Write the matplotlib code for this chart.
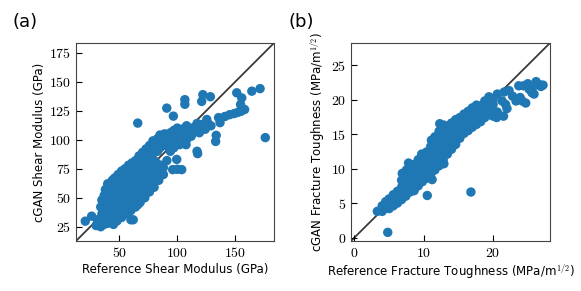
import matplotlib
matplotlib.use("Agg")
import matplotlib.pyplot as plt
from matplotlib.ticker import FuncFormatter

plt.rcParams["mathtext.fontset"] = "cm"
plt.rcParams["font.family"] = "DejaVu Sans"

# (reference, cgan) pairs
shear_blob = [
    (30, 26), (31, 31), (34, 25), (34, 30), (35, 36), (34, 42), (35, 48),
    (37, 27), (38, 33), (37, 40), (38, 46), (37, 52), (38, 57),
    (40, 28), (41, 34), (40, 40), (41, 46), (40, 52), (41, 58), (40, 62),
    (43, 30), (44, 36), (43, 42), (44, 48), (43, 54), (44, 60), (44, 65),
    (46, 32), (47, 38), (46, 44), (47, 50), (46, 56), (47, 62), (46, 67),
    (49, 35), (50, 41), (49, 47), (50, 53), (49, 59), (50, 65), (49, 70),
    (52, 38), (53, 44), (52, 50), (53, 56), (52, 62), (53, 68), (52, 73),
    (55, 40), (56, 46), (55, 52), (56, 58), (55, 64), (56, 70), (55, 75),
    (58, 43), (59, 49), (58, 55), (59, 61), (58, 67), (59, 73), (58, 78),
    (61, 45), (62, 51), (61, 57), (62, 63), (61, 69), (62, 75), (61, 80),
    (64, 47), (65, 53), (64, 59), (65, 65), (64, 71), (65, 77), (64, 82),
    (67, 50), (68, 56), (67, 62), (68, 68), (67, 74), (68, 80), (67, 86),
    (70, 52), (71, 58), (70, 65), (71, 71), (70, 77), (71, 83), (70, 89),
    (73, 55), (74, 61), (73, 68), (74, 74), (73, 80), (74, 86), (73, 92),
    (76, 60), (77, 66), (76, 72), (77, 78), (76, 84), (77, 90), (76, 95),
    (79, 63), (80, 70), (79, 76), (80, 82), (79, 88), (80, 94), (79, 99),
    (82, 68), (83, 74), (82, 80), (83, 90), (82, 96), (83, 101),
    (85, 72), (86, 78), (85, 93), (86, 99), (85, 104),
    (88, 76), (89, 95), (88, 101), (89, 105),
    (91, 82), (92, 98), (91, 104), (94, 90), (95, 100), (94, 106),
    (97, 93), (98, 103), (97, 108), (100, 96), (101, 105), (100, 110),
    (104, 97), (105, 103), (104, 109), (108, 100), (109, 106), (108, 112),
    (112, 103), (113, 110), (116, 107), (117, 114), (120, 110), (121, 113),
    (45, 27), (48, 30), (52, 33), (55, 36), (60, 39), (64, 42), (68, 46),
    (72, 50), (76, 55), (80, 59), (84, 65), (88, 70), (66, 44), (58, 38),
]
shear_outliers = [
    (20.7, 29.8), (26.2, 34.1), (60, 31), (62, 31), (65.9, 114.3),
    (90.9, 127.2), (96.6, 120.3), (106.5, 134.5), (106.5, 130.5),
    (122, 138.8), (121, 133), (128.5, 137), (125.4, 117.4), (126.5, 114),
    (135.5, 119), (136.8, 114.7), (141, 120), (145, 121.5), (149, 122.5),
    (152, 123.5), (155, 124.5), (158, 126), (151.2, 140.4), (155.5, 136),
    (154.5, 130.3), (164.2, 141.8), (171.3, 144), (175.8, 101.8),
    (133.5, 103.7), (133, 98.5), (117, 90), (117.5, 88), (99.5, 83),
    (96, 74.2), (100, 74.5), (103.8, 74.2), (102, 95.7), (107.5, 95.7),
    (110, 104), (115, 108), (119, 106), (124, 109), (129, 112),
]

tough_band = [
    (3.3, 3.8), (4.0, 3.8), (4.0, 4.6), (4.5, 4.3), (4.5, 5.2),
    (5.0, 4.2), (5.0, 5.0), (5.0, 5.6), (5.6, 4.6), (5.6, 5.4), (5.6, 6.2),
    (6.2, 5.0), (6.2, 5.9), (6.2, 6.7), (6.8, 5.5), (6.8, 6.4), (6.8, 7.3),
    (6.8, 8.3), (6.9, 9.3), (7.4, 6.0), (7.4, 6.9), (7.4, 7.8), (7.4, 8.8),
    (7.5, 9.8), (8.0, 6.6), (8.0, 7.5), (8.0, 8.4), (8.0, 9.3), (8.0, 10.3),
    (7.8, 10.8), (8.6, 7.0), (8.6, 8.0), (8.6, 9.0), (8.6, 9.9), (8.6, 10.6),
    (9.2, 7.5), (9.2, 8.5), (9.2, 9.5), (9.2, 10.5), (9.2, 11.3),
    (9.8, 8.1), (9.8, 9.0), (9.8, 10.0), (9.8, 11.0), (9.7, 12.1),
    (10.4, 8.6), (10.4, 9.6), (10.4, 10.6), (10.4, 11.6), (10.4, 12.4),
    (11.0, 9.2), (11.0, 10.2), (11.0, 11.2), (11.0, 12.2), (11.0, 13.2),
    (11.1, 14.1), (11.6, 9.8), (11.6, 10.8), (11.6, 11.8), (11.6, 12.8),
    (11.6, 13.8), (11.6, 14.6), (12.2, 10.4), (12.2, 11.4), (12.2, 12.4),
    (12.2, 13.4), (12.2, 14.4), (12.2, 15.4), (12.3, 16.5), (12.8, 11.3),
    (12.8, 12.3), (12.8, 13.3), (12.8, 14.3), (12.8, 15.3), (12.9, 16.3),
    (13.4, 12.1), (13.4, 13.1), (13.4, 14.1), (13.4, 15.1), (13.4, 16.1),
    (14.0, 12.8), (14.0, 13.8), (14.0, 14.8), (14.0, 15.8), (14.0, 16.6),
    (14.6, 13.5), (14.6, 14.5), (14.6, 15.5), (14.6, 16.5), (14.6, 17.1),
    (15.2, 14.4), (15.2, 15.4), (15.2, 16.4), (15.2, 17.4), (15.8, 15.1),
    (15.8, 16.1), (15.8, 17.1), (15.8, 17.9), (16.4, 15.5), (16.4, 16.5),
    (16.4, 17.5), (16.4, 18.3), (17.0, 16.0), (17.0, 17.0), (17.0, 18.0),
    (17.0, 18.8), (17.6, 16.4), (17.6, 17.4), (17.6, 18.4), (17.6, 19.2),
    (18.2, 16.8), (18.2, 17.8), (18.2, 18.8), (18.2, 19.1), (18.8, 17.4),
    (18.8, 18.3), (18.8, 19.2), (18.8, 19.8), (19.4, 17.8), (19.4, 18.8),
    (19.4, 19.6), (19.4, 20.4), (20.0, 17.6), (20.0, 18.4), (20.0, 19.3),
    (20.0, 20.0),
]
tough_tail = [
    (20.6, 20.8), (21.6, 21.1), (22.3, 21.3), (22.8, 20.5), (21.3, 19.8),
    (21.8, 19.3), (20.6, 18.2), (20.5, 17.4), (21.5, 17.6), (22.0, 18.7),
    (23.3, 19.8), (24.2, 19.8), (24.7, 19.5), (23.9, 20.3), (23.7, 22.0),
    (24.4, 22.0), (25.2, 21.5), (25.6, 21.0), (25.9, 20.8), (25.9, 22.0),
    (26.2, 22.6), (26.6, 22.2), (26.9, 21.9), (27.2, 22.1), (25.0, 22.3),
]
tough_outliers = [
    (4.8, 0.75), (10.5, 6.1), (16.8, 6.6), (12.9, 10.7), (11.2, 8.4),
    (8.6, 6.8),
]

blue = "#1f77b4"
tick_fmt = FuncFormatter(lambda v, p: "$%g$" % v)


def panel(ax, groups, lims, xticks, yticks, xlabel, ylabel):
    ax.plot(lims, lims, color="#3a3a3a", lw=1.3, zorder=1)
    for g in groups:
        ax.scatter([p[0] for p in g], [p[1] for p in g], s=46, color=blue,
                   edgecolors="none", zorder=2)
    ax.set_xlim(lims)
    ax.set_ylim(lims)
    ax.set_xticks(xticks)
    ax.set_yticks(yticks)
    ax.xaxis.set_major_formatter(tick_fmt)
    ax.yaxis.set_major_formatter(tick_fmt)
    ax.tick_params(direction="in", length=4, labelsize=10, top=False, right=False)
    for s in ax.spines.values():
        s.set_color("#444444")
    ax.set_xlabel(xlabel, fontsize=8.5, labelpad=2)
    ax.set_ylabel(ylabel, fontsize=8.5, labelpad=2)


fig = plt.figure(figsize=(5.81, 2.91), dpi=100)
ax1 = fig.add_axes([0.1308, 0.1718, 0.3408, 0.6804])
ax2 = fig.add_axes([0.6041, 0.1718, 0.3425, 0.6804])

panel(ax1, [shear_blob, shear_outliers], (12.7, 183.3), [50, 100, 150],
      [25, 50, 75, 100, 125, 150, 175],
      "Reference Shear Modulus (GPa)", "cGAN Shear Modulus (GPa)")
panel(ax2, [tough_band, tough_tail, tough_outliers], (-0.5, 28.2), [0, 10, 20],
      [0, 5, 10, 15, 20, 25],
      "Reference Fracture Toughness (MPa/m$^{1/2}$)",
      "cGAN Fracture Toughness (MPa/m$^{1/2}$)")

fig.text(0.022, 0.925, "(a)", fontsize=13, va="center")
fig.text(0.497, 0.925, "(b)", fontsize=13, va="center")

fig.savefig("out.png", dpi=100)
